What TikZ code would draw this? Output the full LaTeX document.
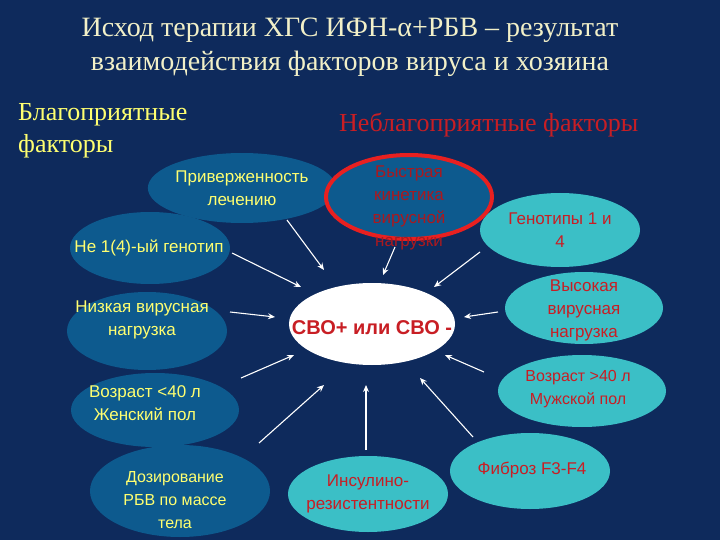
\documentclass[tikz,border=0pt]{standalone}
\usepackage{fontspec}
\setmainfont{Liberation Serif}
\newfontfamily\arial{Liberation Sans}
\usetikzlibrary{shapes.geometric,arrows.meta}
\definecolor{bg}{HTML}{0E2A5C}
\definecolor{dblue}{HTML}{0D5A8E}
\definecolor{cyanf}{HTML}{3BBFC6}
\definecolor{yel}{HTML}{FFFF70}
\definecolor{ttl}{HTML}{F2F0C8}
\definecolor{rtxt}{HTML}{C81E24}
\definecolor{rring}{HTML}{E82020}
\tikzset{
 x=1pt,y=-1pt,
 el/.style={ellipse,inner sep=0pt,align=center,font=\arial\fontsize{17}{23}\selectfont},
 goodel/.style={el,fill=dblue,text=yel},
 badel/.style={el,fill=cyanf,text=rtxt},
 arr/.style={draw=white,line width=1.1pt,-{Stealth[length=7pt,width=6pt]}},
}
\begin{document}
\begin{tikzpicture}
\fill[bg] (0,0) rectangle (720,540);
\useasboundingbox (0,0) rectangle (720,540);
\node[text=ttl,font=\fontsize{28}{34}\selectfont,align=center] (title) at (350,47) {Исход терапии ХГС ИФН-α+РБВ – результат\\взаимодействия факторов вируса и хозяина};
\node[text=yel,font=\fontsize{26}{32}\selectfont,align=left,anchor=north west,inner sep=0pt] (good) at (18,103) {Благоприятные\\факторы};
\node[text=rtxt,font=\fontsize{26}{32}\selectfont,anchor=west,inner sep=0pt] (bad) at (339,125) {Неблагоприятные факторы};

\node[goodel,minimum width=158,minimum height=70] (e1) at (242,188) {Приверженность\\лечению};
\node[el,fill=dblue,text=rtxt!85!black,draw=rring,line width=4pt,minimum width=166,minimum height=84] (e2) at (409,197) {};
\node[el,text=rtxt!85!black] (e2t) at (409,208) {Быстрая\\кинетика\\вирусной\\нагрузки};
\node[goodel,minimum width=160,minimum height=72] (e3) at (150,248) {};
\node[el,text=yel] (e3t) at (149,248) {Не 1(4)-ый генотип};
\node[goodel,minimum width=160,minimum height=78] (e4) at (147,331) {};
\node[el,text=yel] (e4t) at (142,320) {Низкая вирусная\\нагрузка};
\node[goodel,minimum width=168,minimum height=74] (e5) at (155,410) {};
\node[el,text=yel] (e5t) at (145,403) {Возраст <40 л\\Женский пол};
\node[goodel,minimum width=180,minimum height=92] (e6) at (180,491) {};
\node[el,text=yel,font=\arial\fontsize{16}{23}\selectfont] (e6t) at (175,500) {Дозирование\\РБВ по массе\\тела};
\node[badel,minimum width=160,minimum height=74] (e7) at (560,230) {Генотипы 1 и\\4};
\node[badel,minimum width=158,minimum height=72] (e8) at (584,308) {};
\node[el,text=rtxt] (e8t) at (584,310) {Высокая\\вирусная\\нагрузка};
\node[badel,minimum width=168,minimum height=72] (e9) at (582,391) {};
\node[el,text=rtxt,font=\arial\fontsize{16}{23}\selectfont] (e9t) at (578,389) {Возраст >40 л\\Мужской пол};
\node[badel,minimum width=160,minimum height=76] (e10) at (530,471) {};
\node[el,text=rtxt] (e10t) at (532,470) {Фиброз F3-F4};
\node[badel,minimum width=160,minimum height=76] (e11) at (368,494) {};
\node[el,text=rtxt] (e11t) at (368,494) {Инсулино-\\резистентности};
\node[ellipse,fill=white,minimum width=166,minimum height=82] (c) at (372,324) {};
\node[text=rtxt,font=\arial\bfseries\fontsize{20}{24}\selectfont] (ct) at (372,328) {СВО+ или СВО -};

\coordinate (a1s) at (287,220); \coordinate (a1e) at (324,270);
\coordinate (a2s) at (232,253); \coordinate (a2e) at (301,287);
\coordinate (a3s) at (230,312); \coordinate (a3e) at (275,317);
\coordinate (a4s) at (241,378); \coordinate (a4e) at (294,355);
\coordinate (a5s) at (259,443); \coordinate (a5e) at (324,385);
\coordinate (a6s) at (366,450); \coordinate (a6e) at (366,385);
\coordinate (a7s) at (473,437); \coordinate (a7e) at (420,378);
\coordinate (a8s) at (484,372); \coordinate (a8e) at (445,355);
\coordinate (a9s) at (498,312); \coordinate (a9e) at (464,317);
\coordinate (a10s) at (480,252); \coordinate (a10e) at (434,287);
\coordinate (a11s) at (395,247); \coordinate (a11e) at (383,275);
\foreach \i in {1,...,11} {\draw[arr] (a\i s) -- (a\i e);}
\end{tikzpicture}
\end{document}
